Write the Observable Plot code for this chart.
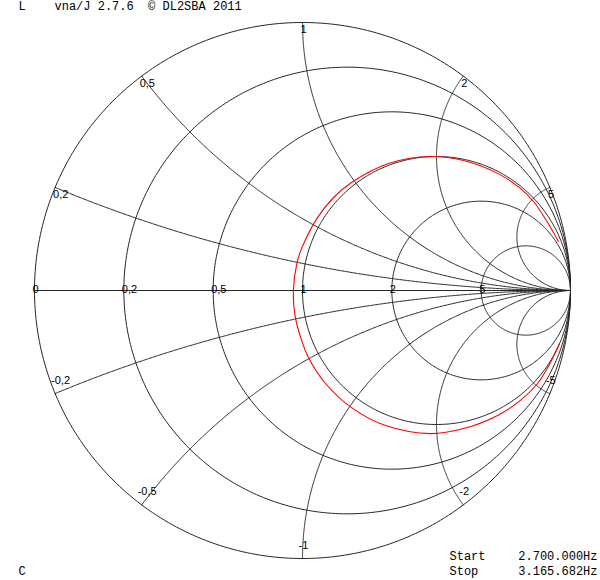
<!DOCTYPE html>
<html>
<head>
<meta charset="utf-8">
<script src="https://cdn.jsdelivr.net/npm/d3@7"></script>
<script src="https://cdn.jsdelivr.net/npm/@observablehq/plot@0.6"></script>
<style>
  html, body { margin: 0; padding: 0; background: #fff; }
  #chart svg { display: block; }
</style>
</head>
<body>
<div id="chart"></div>
<script>
// ---- chart data ----
const resistanceValues = [0, 0.2, 0.5, 1, 2, 5];
const resistanceLabels = ["0", "0,2", "0,5", "1", "2", "5"];
const reactanceValues = [0.2, 0.5, 1, 2, 5, -0.2, -0.5, -1, -2, -5];
const reactanceLabels = ["0,2", "0,5", "1", "2", "5", "-0,2", "-0,5", "-1", "-2", "-5"];

const traceRe = [0.959, 0.925, 0.877, 0.813, 0.728, 0.601, 0.478, 0.310, 0.183, 0.086, 0.022, -0.007, -0.028, -0.034,
                 -0.021, -0.002, 0.056, 0.116, 0.183, 0.321, 0.478, 0.601, 0.728, 0.813, 0.862, 0.910, 0.955];
const traceIm = [-0.198, -0.269, -0.347, -0.410, -0.466, -0.515, -0.534, -0.504, -0.437, -0.347, -0.250, -0.175, -0.093, 0.000,
                 0.101, 0.160, 0.272, 0.347, 0.403, 0.474, 0.500, 0.485, 0.437, 0.381, 0.332, 0.261, 0.183];

const headerMark = "L";
const headerText = "vna/J 2.7.6  \u00A9 DL2SBA 2011";
const footerMark = "C";
const sweepNames = ["Start", "Stop"];
const sweepValues = ["2.700.000Hz", "3.165.682Hz"];

// ---- layout ----
const W = 600, H = 580, CX = 302, CY = 290, R = 268;

// Smith chart mapping z -> gamma
function gamma(r, x) {
  const den = (r + 1) * (r + 1) + x * x;
  return [(r * r + x * x - 1) / den, (2 * x) / den];
}

// grid curves built from the tick values
const grid = [];
resistanceValues.forEach((r, i) => {
  const c = r / (r + 1), rad = 1 / (r + 1);
  for (let k = 0; k <= 360; k++) {
    const a = (k / 360) * 2 * Math.PI;
    grid.push({id: "r" + i, gx: c + rad * Math.cos(a), gy: rad * Math.sin(a)});
  }
});
reactanceValues.forEach((x, i) => {
  for (let k = 0; k <= 400; k++) {
    const t = k / 400;
    const r = t >= 1 ? 1e6 : t / (1 - t);
    const g = gamma(r, x);
    grid.push({id: "x" + i, gx: g[0], gy: g[1]});
  }
});
grid.push({id: "axis", gx: -1, gy: 0}, {id: "axis", gx: 1, gy: 0});

const trace = traceRe.map((v, i) => ({gx: v, gy: traceIm[i]}));

const rLabels = resistanceValues.map((r, i) => ({gx: (r - 1) / (r + 1), gy: 0, label: resistanceLabels[i]}));
const xLabels = reactanceValues.map((x, i) => {
  const g = gamma(0, x);
  return {gx: g[0], gy: g[1], label: reactanceLabels[i], pos: x > 0};
});

const mono = "'Liberation Mono', 'DejaVu Sans Mono', monospace";

const chart = Plot.plot({
  width: W,
  height: H,
  margin: 0,
  style: {background: "#fff", fontFamily: "'Liberation Sans', Arial, sans-serif"},
  x: {domain: [-CX / R, (W - CX) / R], axis: null},
  y: {domain: [-(H - CY) / R, CY / R], axis: null},
  marks: [
    Plot.line(grid, {x: "gx", y: "gy", z: "id", stroke: "#262626", strokeWidth: 1}),
    Plot.line(trace, {x: "gx", y: "gy", stroke: "#ff0000", strokeWidth: 1.1, curve: "catmull-rom"}),
    Plot.text(rLabels, {x: "gx", y: "gy", text: "label", textAnchor: "start", lineAnchor: "bottom", dx: -2, dy: 2, fontSize: 11, fill: "#000"}),
    Plot.text(xLabels.filter(d => d.pos), {x: "gx", y: "gy", text: "label", textAnchor: "start", lineAnchor: "top", dx: -2, dy: 3, fontSize: 11, fill: "#000"}),
    Plot.text(xLabels.filter(d => !d.pos), {x: "gx", y: "gy", text: "label", textAnchor: "start", lineAnchor: "bottom", dx: -4, dy: -10, fontSize: 11, fill: "#000"}),
    Plot.text([headerMark], {frameAnchor: "top-left", text: d => d, dx: 18, dy: 1, lineAnchor: "top", fontSize: 12, fontFamily: mono, fill: "#000"}),
    Plot.text([headerText], {frameAnchor: "top-left", text: d => d, dx: 54, dy: 1, lineAnchor: "top", fontSize: 12, fontFamily: mono, fill: "#000"}),
    Plot.text([footerMark], {frameAnchor: "bottom-left", text: d => d, dx: 18, dy: -6, lineAnchor: "bottom", fontSize: 12, fontFamily: mono, fill: "#000"}),
    Plot.text([sweepNames[0]], {frameAnchor: "bottom-left", text: d => d, dx: 449, dy: -21, lineAnchor: "bottom", textAnchor: "start", fontSize: 12, fontFamily: mono, fill: "#000"}),
    Plot.text([sweepNames[1]], {frameAnchor: "bottom-left", text: d => d, dx: 449, dy: -6, lineAnchor: "bottom", textAnchor: "start", fontSize: 12, fontFamily: mono, fill: "#000"}),
    Plot.text([sweepValues[0]], {frameAnchor: "bottom-right", text: d => d, dx: -3, dy: -21, lineAnchor: "bottom", textAnchor: "end", fontSize: 12, fontFamily: mono, fill: "#000"}),
    Plot.text([sweepValues[1]], {frameAnchor: "bottom-right", text: d => d, dx: -3, dy: -6, lineAnchor: "bottom", textAnchor: "end", fontSize: 12, fontFamily: mono, fill: "#000"})
  ]
});
document.getElementById("chart").appendChild(chart);
</script>
</body>
</html>
